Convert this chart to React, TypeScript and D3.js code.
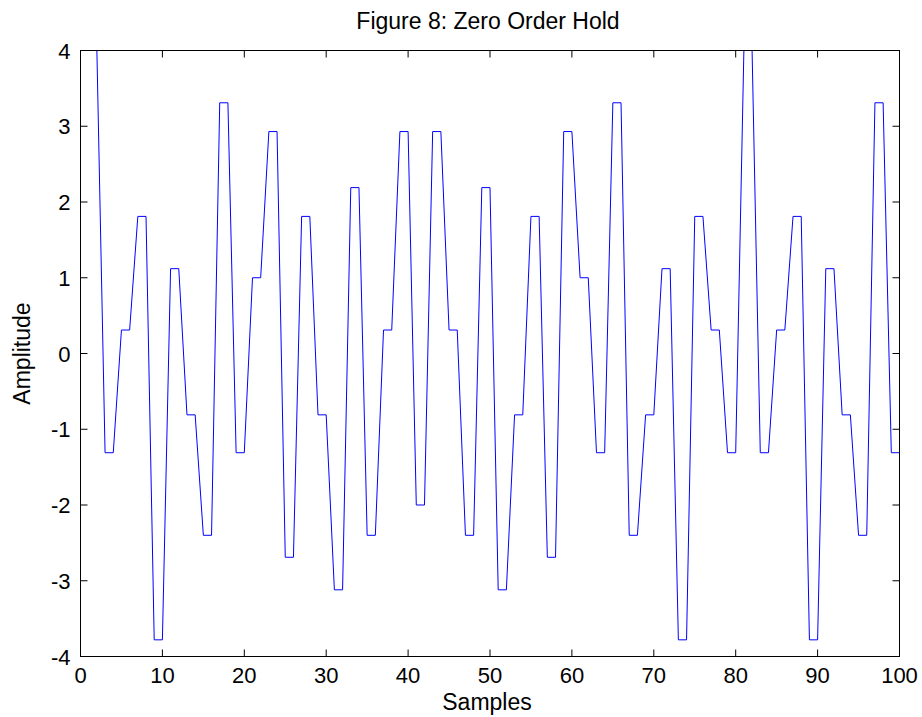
import React from "react";
import * as d3 from "d3";

// Zero-order-hold output: each held amplitude repeated for two samples (samples 1..100)
const samples: number[] = d3.range(1, 101);
const amplitude: number[] = [
  4, 4, -1.31, -1.31, 0.31, 0.31, 1.81, 1.81, -3.78, -3.78,
  1.12, 1.12, -0.81, -0.81, -2.4, -2.4, 3.31, 3.31, -1.31, -1.31,
  1.0, 1.0, 2.93, 2.93, -2.69, -2.69, 1.81, 1.81, -0.81, -0.81,
  -3.12, -3.12, 2.19, 2.19, -2.4, -2.4, 0.31, 0.31, 2.93, 2.93,
  -2.0, -2.0, 2.93, 2.93, 0.31, 0.31, -2.4, -2.4, 2.19, 2.19,
  -3.12, -3.12, -0.81, -0.81, 1.81, 1.81, -2.69, -2.69, 2.93, 2.93,
  1.0, 1.0, -1.31, -1.31, 3.31, 3.31, -2.4, -2.4, -0.81, -0.81,
  1.12, 1.12, -3.78, -3.78, 1.81, 1.81, 0.31, 0.31, -1.31, -1.31,
  4, 4, -1.31, -1.31, 0.31, 0.31, 1.81, 1.81, -3.78, -3.78,
  1.12, 1.12, -0.81, -0.81, -2.4, -2.4, 3.31, 3.31, -1.31, -1.31,
];
const xTicks: number[] = [0, 10, 20, 30, 40, 50, 60, 70, 80, 90, 100];
const yTicks: number[] = [-4, -3, -2, -1, 0, 1, 2, 3, 4];

const W = 922;
const H = 717;
const L = 80.5;
const R = 899.5;
const T = 50.5;
const B = 656.5;
const TL = 7;
const FONT = "Arial, 'Liberation Sans', Helvetica, sans-serif";

export default function App() {
  const x = d3.scaleLinear().domain([0, 100]).range([L, R]);
  const y = d3.scaleLinear().domain([-4, 4]).range([B, T]);
  const line = d3
    .line<number>()
    .x((_, i) => x(samples[i]))
    .y((d) => y(d));
  const path = line(amplitude) || "";

  return (
    <svg
      width={W}
      height={H}
      style={{ position: "absolute", left: 0, top: 0, background: "#fff" }}
    >
      <rect x={0} y={0} width={W} height={H} fill="#fff" />
      <path d={path} fill="none" stroke="#0000ff" strokeWidth={1} />
      <rect x={L} y={T} width={R - L} height={B - T} fill="none" stroke="#000" strokeWidth={1} />
      {xTicks.map((t) => (
        <g key={"x" + t}>
          <line x1={x(t)} x2={x(t)} y1={B} y2={B - TL} stroke="#000" />
          <line x1={x(t)} x2={x(t)} y1={T} y2={T + TL} stroke="#000" />
          <text
            x={x(t)}
            y={683}
            textAnchor="middle"
            fontFamily={FONT}
            fontSize={22}
            fill="#000"
          >
            {t}
          </text>
        </g>
      ))}
      {yTicks.map((t) => (
        <g key={"y" + t}>
          <line x1={L} x2={L + TL} y1={y(t)} y2={y(t)} stroke="#000" />
          <line x1={R} x2={R - TL} y1={y(t)} y2={y(t)} stroke="#000" />
          <text
            x={70.5}
            y={y(t) + 8}
            textAnchor="end"
            fontFamily={FONT}
            fontSize={22}
            fill="#000"
          >
            {t}
          </text>
        </g>
      ))}
      <text x={488} y={29} textAnchor="middle" fontFamily={FONT} fontSize={23} fill="#000">
        Figure 8: Zero Order Hold
      </text>
      <text x={487} y={710} textAnchor="middle" fontFamily={FONT} fontSize={23} fill="#000">
        Samples
      </text>
      <text
        transform={`translate(30,${(T + B) / 2}) rotate(-90)`}
        textAnchor="middle"
        fontFamily={FONT}
        fontSize={23}
        fill="#000"
      >
        Amplitude
      </text>
    </svg>
  );
}
